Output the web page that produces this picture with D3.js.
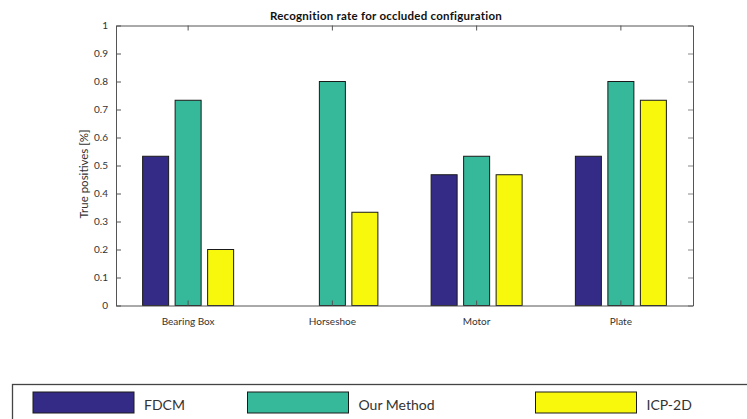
<!DOCTYPE html>
<html>
<head>
<meta charset="utf-8">
<script src="https://cdn.jsdelivr.net/npm/d3@7"></script>
<style>
  html, body { margin: 0; padding: 0; background: #fff; }
  svg { display: block; font-family: Lato, "Open Sans", sans-serif; }
</style>
</head>
<body>
<svg id="chart" width="747" height="419"></svg>
<script>
// Objects and methods compared
const categories = ["Bearing Box", "Horseshoe", "Motor", "Plate"];
const seriesNames = ["FDCM", "Our Method", "ICP-2D"];
const fdcm = [0.533, 0, 0.467, 0.533];
const ourMethod = [0.733, 0.8, 0.533, 0.8];
const icp2d = [0.2, 0.333, 0.467, 0.733];
const yTicks = [0, 0.1, 0.2, 0.3, 0.4, 0.5, 0.6, 0.7, 0.8, 0.9, 1];
const colors = ["#342b87", "#36b89a", "#f8f80c"];

const series = [fdcm, ourMethod, icp2d];
const svg = d3.select("#chart");

const plot = { left: 116, right: 693, top: 25.5, bottom: 305.5 };

const x = d3.scaleBand().domain(categories).range([plot.left, plot.right]);
const xSeries = d3.scaleBand().domain(seriesNames)
  .range([-45.5, 45.5]).paddingInner(0.2);
const y = d3.scaleLinear().domain([0, 1]).range([plot.bottom, plot.top]);

// Title
svg.append("text")
  .attr("x", 386).attr("y", 19.5)
  .attr("text-anchor", "middle")
  .attr("font-size", 11.5).attr("font-weight", "bold")
  .attr("letter-spacing", 0.25)
  .attr("fill", "#111")
  .text("Recognition rate for occluded configuration");

// Bars
const rows = [];
categories.forEach((c, i) => {
  seriesNames.forEach((s, j) => rows.push({ c, s, v: series[j][i], color: colors[j] }));
});
svg.append("g").selectAll("rect")
  .data(rows.filter(d => d.v > 0))
  .join("rect")
  .attr("x", d => x(d.c) + x.bandwidth() / 2 + xSeries(d.s))
  .attr("width", xSeries.bandwidth())
  .attr("y", d => y(d.v))
  .attr("height", d => y(0) - y(d.v))
  .attr("fill", d => d.color)
  .attr("stroke", "#1a1a1a")
  .attr("stroke-width", 1);

// Axes box with inward ticks
const axisColor = "#555";
const axLeft = svg.append("g").attr("transform", `translate(${plot.left},0)`)
  .call(d3.axisLeft(y).tickValues(yTicks).tickSizeInner(-5).tickSizeOuter(0)
    .tickPadding(8).tickFormat(d => d3.format("")(+d.toFixed(1))));
axLeft.select(".domain").attr("stroke", axisColor);
axLeft.selectAll(".tick line").attr("stroke", axisColor);
axLeft.selectAll(".tick text").attr("font-size", 10).attr("fill", "#333")
  .attr("font-family", "Lato, 'Open Sans', sans-serif");

const axRight = svg.append("g").attr("transform", `translate(${plot.right},0)`)
  .call(d3.axisRight(y).tickValues(yTicks).tickSizeInner(-5).tickSizeOuter(0).tickFormat(""));
axRight.select(".domain").attr("stroke", axisColor);
axRight.selectAll(".tick line").attr("stroke", "#888");

const axBottom = svg.append("g").attr("transform", `translate(0,${plot.bottom})`)
  .call(d3.axisBottom(x).tickSizeInner(-5).tickSizeOuter(0).tickPadding(12));
axBottom.select(".domain").attr("stroke", axisColor);
axBottom.selectAll(".tick line").attr("stroke", axisColor);
axBottom.selectAll(".tick text").attr("font-size", 10).attr("fill", "#333")
  .attr("font-family", "Lato, 'Open Sans', sans-serif");

const axTop = svg.append("g").attr("transform", `translate(0,${plot.top})`)
  .call(d3.axisTop(x).tickSizeInner(-5).tickSizeOuter(0).tickFormat(""));
axTop.select(".domain").attr("stroke", axisColor);
axTop.selectAll(".tick line").attr("stroke", axisColor);

// Y-axis title
svg.append("text")
  .attr("transform", "translate(88,174) rotate(-90)")
  .attr("text-anchor", "middle")
  .attr("font-size", 11.5).attr("fill", "#333")
  .text("True positives [%]");

// Legend
const legend = svg.append("g");
legend.append("rect")
  .attr("x", 12.5).attr("y", 384.5).attr("width", 760).attr("height", 60)
  .attr("fill", "#fff").attr("stroke", "#444").attr("stroke-width", 1.3);
const legendX = [33, 247.5, 535.5];
seriesNames.forEach((s, j) => {
  legend.append("rect")
    .attr("x", legendX[j]).attr("y", 392).attr("width", 101).attr("height", 21)
    .attr("fill", colors[j]).attr("stroke", "#1a1a1a").attr("stroke-width", 1);
  legend.append("text")
    .attr("x", legendX[j] + 111).attr("y", 410)
    .attr("font-size", 14).attr("fill", "#333")
    .text(s);
});
</script>
</body>
</html>
